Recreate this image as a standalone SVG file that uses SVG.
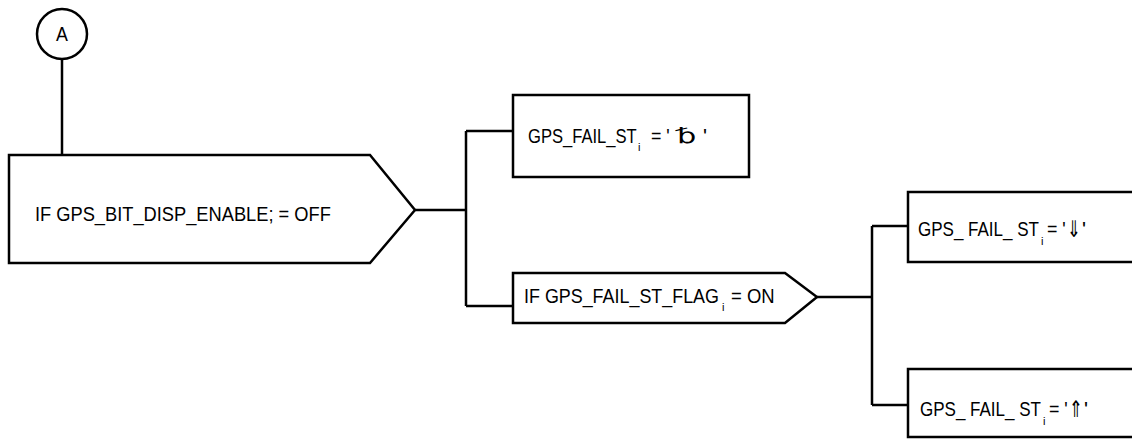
<svg xmlns="http://www.w3.org/2000/svg" width="1132" height="440" viewBox="0 0 1132 440">
<style>
.s{fill:#fff;stroke:#000;stroke-width:2.5}
.c{fill:none;stroke:#000;stroke-width:2.5}
.t{font-family:"Liberation Sans",Arial,sans-serif;font-size:21px;fill:#000}
.sub{font-family:"Liberation Sans",Arial,sans-serif;font-size:11px;fill:#000}
.ar{font-family:"DejaVu Sans","Liberation Sans",sans-serif;font-size:23px;fill:#000}
.bs{font-family:"DejaVu Sans","Liberation Sans",sans-serif;font-size:21px;fill:#000}
</style>
<rect width="1132" height="440" fill="#fff"/>
<g id="connectors">
<path class="c" d="M62,60 V155"/>
<path class="c" d="M415,210 H466 M466,131 V306 M466,131 H513 M466,306 H513"/>
<path class="c" d="M817,297 H872 M872,226 V405 M872,226 H908 M872,405 H908"/>
</g>
<g id="nodeA">
<circle class="s" cx="62" cy="34" r="25"/>
<text class="t" transform="translate(62,41) scale(0.85,1)" text-anchor="middle">A</text>
</g>
<g id="decision1">
<path class="s" d="M9,155 H370 L415,210 L370,263 H9 Z"/>
<text class="t" transform="translate(35,221) scale(0.87,1)">IF GPS_BIT_DISP_ENABLE; = OFF</text>
</g>
<g id="box1">
<rect class="s" x="513" y="95" width="236" height="82"/>
<text class="t" transform="translate(528,143) scale(0.79,1)">GPS_FAIL_ST</text>
<text class="sub" x="638" y="151">i</text>
<text class="t" transform="translate(651,143) scale(0.85,1)">= '</text>
<text class="bs" transform="translate(677,143) scale(1.45,1)">␢</text>
<text class="t" x="703" y="143">'</text>
</g>
<g id="decision2">
<path class="s" d="M513,273 H785 L817,297 L785,323 H513 Z"/>
<text class="t" transform="translate(524,303) scale(0.853,1)">IF GPS_FAIL_ST_FLAG</text>
<text class="sub" x="722" y="311">i</text>
<text class="t" transform="translate(731,303) scale(0.88,1)">= ON</text>
</g>
<g id="box2">
<rect class="s" x="908" y="192" width="240" height="70"/>
<text class="t" transform="translate(918,236) scale(0.81,1)">GPS_ FAIL_ ST</text>
<text class="sub" x="1041" y="245">i</text>
<text class="t" transform="translate(1047,236) scale(0.85,1)">= '</text>
<text class="ar" transform="translate(1067,237) scale(0.72,1)">⇓</text>
<text class="t" x="1082" y="236">'</text>
</g>
<g id="box3">
<rect class="s" x="908" y="369" width="240" height="68"/>
<text class="t" transform="translate(920,416) scale(0.81,1)">GPS_ FAIL_ ST</text>
<text class="sub" x="1043" y="425">i</text>
<text class="t" transform="translate(1049,416) scale(0.85,1)">= '</text>
<text class="ar" transform="translate(1069,417) scale(0.72,1)">⇑</text>
<text class="t" x="1084" y="416">'</text>
</g>
</svg>
